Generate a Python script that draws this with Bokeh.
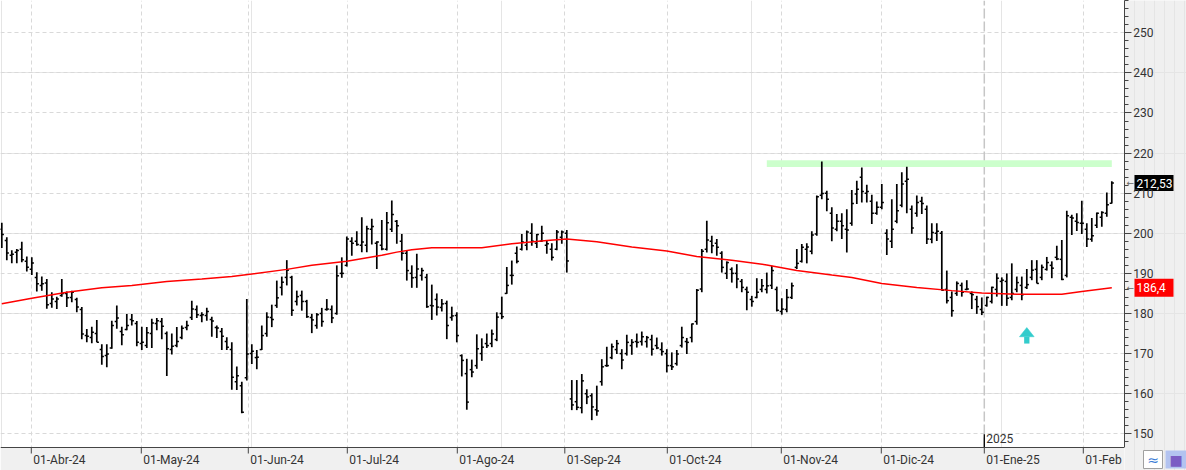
from bokeh.plotting import figure
from bokeh.models import Range1d, FixedTicker, SingleIntervalTicker, Label, Span, Grid, LinearAxis
from bokeh.layouts import row
from bokeh.embed import file_html
from bokeh.resources import INLINE
from bokeh.core.properties import value

# ---------------- data ----------------
opens = [201, 198.2, 194.5, 195.3, 196, 193, 191, 189, 187, 187.6, 182.5, 183, 184.5, 185, 184, 183.5, 181, 174.5, 174, 175,
         171, 169.5, 171.4, 178, 175.5, 176, 178.5, 177.5, 172.5, 172, 175, 177.5, 178, 175, 171, 172, 174, 176.5, 179, 181,
         179.5, 179.5, 178.5, 176.5, 175.5, 173, 171, 163, 162, 164, 170, 169, 171, 175, 179, 182, 186.5, 189, 189, 183,
         184.5, 183, 179, 177, 180, 181, 181, 180, 190, 192, 198, 198, 197, 197, 201, 197.5, 197, 196, 201, 203,
         198, 195, 190, 189, 189.5, 189, 182, 183.5, 181.5, 182.5, 179, 179.5, 169.5, 165, 166, 167, 170, 172.5, 172.5, 173.5,
         180, 185, 189.5, 195, 196, 197, 200, 197.5, 198, 197, 196, 196, 199, 200, 158.7, 158, 156.5, 160, 159.5, 156,
         163, 167, 169, 171, 170, 170, 172, 173, 173, 173, 173.5, 172, 171, 170, 167, 167.5, 172, 173, 174, 178,
         186.1, 196, 198, 197.5, 195, 190, 191, 190, 188, 186, 183.5, 184, 186, 186, 187, 186, 180.5, 181, 184, 191.5,
         193, 196, 195.5, 199.8, 209.5, 210, 205, 201, 203, 201, 202.5, 209.8, 214, 210, 208, 205, 206.5, 200, 198, 203,
         207, 213, 206, 205, 208, 206, 198.5, 200, 200, 186, 184, 185, 187, 186, 185, 183.5, 181, 182, 183, 186,
         188, 188, 184, 186, 187, 186.5, 189, 191, 189, 191, 192, 194, 193.5, 189.5, 204, 203, 202.5, 201, 198.5, 202,
         204, 205, 207.5]
highs = [202.6, 199, 195.8, 196.1, 197.9, 194.2, 194, 190.3, 189.2, 188.6, 185.3, 184.2, 188.6, 185.5, 185.7, 183.9, 181.6, 176.1, 176.7, 178.4,
         172.3, 172.3, 178.2, 182, 176.7, 179.9, 179.9, 178.1, 176.7, 176.6, 178.7, 178.9, 178.9, 175.5, 175, 176.6, 177, 178.2, 183.2, 182,
         180.3, 181.4, 179.2, 177, 176.4, 174.1, 172.8, 166.8, 163, 183.6, 172.3, 170.9, 177, 180.3, 182.2, 188.2, 189.2, 193.3, 189.4, 185.7,
         185.7, 183.4, 179.9, 180.1, 181.4, 183.6, 182, 192, 194, 199.2, 199, 200.5, 204, 201.9, 203.6, 198, 203.3, 205.3, 208.2, 203.3,
         199.8, 195.7, 192, 194.9, 191.4, 189.9, 187.2, 185, 183.6, 183.2, 181.7, 180.3, 169.8, 168.7, 168.5, 174.8, 173.8, 175, 176, 180.3,
         184.2, 191.6, 193.2, 196.7, 199.8, 200.7, 202.5, 199.8, 201.9, 198.2, 197.5, 200.8, 200.7, 200.8, 163.4, 163.4, 164.9, 161.1, 160.1, 162,
         168.6, 171.7, 172.5, 173.4, 171.1, 174.7, 173.6, 175, 175.5, 174.4, 174.7, 174, 172.8, 171.1, 170.3, 170.9, 176.7, 173.9, 177.5, 186.1,
         196.1, 203.1, 199.4, 198.6, 195.5, 193, 191.5, 192.3, 188.6, 186.7, 184.4, 188.8, 188.6, 190.2, 191.9, 186.7, 183.8, 186.1, 187.7, 196.1,
         197.3, 197.5, 200.5, 209.4, 217.9, 210.6, 206.5, 204.8, 205, 206, 210.8, 213.1, 216.4, 212.1, 209.6, 207.9, 212.3, 201, 208.5, 212.3,
         215.2, 216.6, 206.9, 209.4, 209.1, 206.9, 202.5, 202.5, 200.6, 190.7, 185.5, 188, 187.7, 188.3, 185.5, 184.4, 184, 184.2, 186.7, 190,
         189, 190, 192.5, 189.2, 189.2, 191.1, 193.3, 193.3, 192.2, 194.1, 193, 196.9, 198.3, 205.6, 204.6, 205, 208.1, 202.5, 203.8, 205.2,
         205.5, 210.2, 213]
lows = [196.3, 193.3, 192.5, 192.5, 192.8, 190.5, 189.6, 185.5, 185.7, 181.2, 181.4, 181.1, 184.2, 181.6, 182.8, 180.3, 173.6, 172.8, 172.6, 172.8,
        167.2, 166.6, 171.2, 176.2, 172.1, 175.8, 177, 171.8, 170.9, 171.4, 171.4, 175.8, 173.6, 164.4, 169.8, 171.6, 173.6, 175.8, 178.4, 178.9,
        177.8, 178.2, 174.2, 173.9, 170.9, 170.9, 161, 160.9, 155.1, 163.3, 167.4, 166.1, 170.9, 174.2, 176.6, 181.4, 184.5, 187, 179.4, 182,
        180.7, 178.9, 175.1, 176.2, 176.7, 180.7, 177.6, 179.7, 188.9, 191.7, 194.4, 196.9, 195.3, 195.3, 197.2, 191.1, 195.8, 195.7, 200.3, 197.4,
        193.2, 188.2, 186.4, 186.4, 188.2, 181.4, 178.4, 179.5, 180.5, 173.6, 178.2, 172.8, 164.3, 156, 164.1, 166.2, 168.2, 171.4, 171.6, 173.1,
        178.6, 184.9, 187.2, 192.5, 195.7, 195.8, 196.9, 196.3, 197.8, 194.9, 193.2, 195.8, 197.4, 190.2, 155.9, 155.9, 155.1, 157.4, 153.4, 154.5,
        162, 166.7, 168.6, 169.9, 166.1, 169.5, 169.7, 171.5, 172, 171.5, 169.5, 171.1, 169.5, 165.3, 165.9, 167, 171.5, 169.9, 172.8, 177.2,
        185.3, 195.2, 195, 194.4, 190.2, 188.6, 187.7, 186.3, 185.3, 180.8, 181.7, 183.8, 185.3, 185, 186.1, 180.5, 179.7, 180.3, 183.6, 191.1,
        192.7, 192.5, 194.8, 199.4, 208.5, 205.5, 198, 200.5, 198.6, 195.2, 201.9, 207.3, 207.7, 207.7, 202.3, 204.6, 206, 194.6, 196.3, 202.5,
        206.5, 205, 199.9, 204.1, 204.8, 197.3, 197.5, 198.1, 185.7, 182.5, 179.2, 184.4, 184.2, 185.8, 181.1, 179.9, 179.6, 181.7, 182.5, 184.2,
        181.9, 181.9, 183.3, 185.3, 183.3, 186.1, 188.3, 187.5, 188.3, 190.7, 188.8, 193.3, 188.3, 189, 199.6, 200.6, 199.8, 196.6, 197.9, 201.3,
        201.6, 204.1, 207.4]
closes = [199.7, 195.1, 194.8, 195.7, 193.4, 191.5, 192.6, 187.4, 187.4, 182.2, 183.6, 183.6, 185, 183.9, 185.3, 181.6, 174.9, 174.3, 175.3, 172.8,
          169.3, 169.9, 177, 178.9, 174.7, 177, 178.2, 172.8, 172.8, 175.2, 177.6, 178.2, 176.8, 171.2, 171.8, 173, 176.3, 177, 181.1, 179.7,
          179.7, 180.5, 178.1, 176.4, 174.3, 171.6, 164.1, 164.5, 155.4, 169.9, 170.6, 169.1, 174.5, 179.1, 178.5, 183.9, 187.8, 190.8, 180.8, 184.2,
          183, 179.2, 178.4, 179.7, 178, 181.1, 178.9, 189.4, 190, 198.6, 197.5, 197.2, 197.8, 201.1, 201.7, 197.8, 196.1, 202.6, 204.7, 201.9,
          195, 190.7, 188.9, 191.1, 190.7, 181.7, 181.9, 181.6, 182.4, 177, 179.4, 174.5, 168.3, 157.9, 165.4, 171.2, 171.6, 172, 174.9, 179.1,
          179.2, 187, 189.5, 193, 197.8, 200.3, 198, 199.7, 200, 197.4, 194, 200.3, 200.3, 193.1, 157.2, 156.6, 163.2, 159.2, 156.7, 155.7,
          166.7, 167, 171.7, 172.5, 168.4, 172.8, 172.8, 172.8, 174.2, 174, 171.1, 171.4, 170.5, 167, 166.7, 169.9, 174, 172.8, 177.4, 185.8,
          195.5, 198.3, 196.9, 196.5, 191.5, 192.7, 190, 188.6, 186.5, 185.3, 183, 185.3, 186.9, 186.9, 190.7, 180.8, 181.1, 184, 186.9, 192.5,
          196.5, 196.6, 199.6, 209.1, 209.9, 208.5, 201.3, 203, 201.9, 200.8, 207.4, 211, 210.4, 210.4, 205, 206.5, 207.7, 198.6, 201, 205.6,
          212.3, 213.5, 201.3, 207.7, 207.4, 198.6, 200.2, 200.5, 185.8, 183.2, 180.7, 187.5, 185.3, 186.1, 184.7, 181.7, 180.3, 184, 186.5, 188.8,
          188.3, 183.8, 185, 187.7, 184.7, 187.2, 190.8, 187.5, 191.5, 192.7, 191.3, 193.6, 188.5, 204.4, 203.8, 202.7, 202.5, 198.6, 199.4, 205,
          205.2, 207.1, 212.53]

# moving average readings (bar index, value)
ma_idx = [0, 6, 13, 20, 26, 33, 40, 46, 57, 62, 69, 76, 79, 82, 86, 96, 102, 109, 113, 119,
          126, 133, 139, 146, 153, 159, 166, 170, 176, 183, 190, 196, 203, 212, 216, 222]
ma_val = [182.4, 183.8, 185.3, 186.4, 187.0, 188.0, 188.6, 189.2, 191.0, 192.0, 193.0, 194.5, 195.3, 195.9, 196.4, 196.4, 197.4, 198.2, 198.6, 197.9,
          196.6, 195.6, 194.2, 193.3, 192.1, 190.7, 189.6, 189.0, 187.5, 186.5, 185.7, 185.1, 184.8, 184.8, 185.5, 186.4]

month_labels = ["01-Abr-24", "01-May-24", "01-Jun-24", "01-Jul-24", "01-Ago-24", "01-Sep-24",
                "01-Oct-24", "01-Nov-24", "01-Dic-24", "01-Ene-25", "01-Feb"]
month_pos = [5.9, 27.9, 49.3, 69.1, 91.1, 112.6, 133.1, 155.9, 175.9, 196.5, 216.3]
year_label = "2025"
year_pos = 196.5

band_from, band_to = 153, 222
band_low, band_high = 216.5, 218.2

arrow_idx = 205
arrow_low, arrow_high = 172.5, 176.5

last_close_text = "212,53"
last_close_val = 212.53
ma_last_text = "186,4"
ma_last_val = 186.4

# ---------------- layout constants ----------------
X0, X1 = -0.26, 224.54          # 1124 px plot width
Y0, Y1 = 146.58, 258.05         # price area: top 447 px
UNIT_PX = 447 / (Y1 - Y0)
SY0 = Y1 - 470 / UNIT_PX        # full 470 px height
FONT = "Roboto"
BG = "#f0f0f0"
AXIS_C = "#444444"
TXT_C = "#333333"

# ---------------- main figure (frame = whole canvas) ----------------
p = figure(width=1124, height=470, output_backend="svg", toolbar_location=None,
           x_range=Range1d(X0, X1), y_range=Range1d(SY0, Y1),
           x_axis_location=None, y_axis_location=None,
           min_border_left=0, min_border_top=0, min_border_right=0, min_border_bottom=0)
p.background_fill_color = "white"
p.border_fill_color = BG
p.outline_line_color = None

xgrid = Grid(dimension=0, ticker=FixedTicker(ticks=[m for m in month_pos if m != year_pos]))
ygrid = Grid(dimension=1, ticker=SingleIntervalTicker(interval=10))
for g in (xgrid, ygrid):
    g.grid_line_color = "#d9d9d9"
    g.grid_line_dash = "4 3"
    g.grid_line_width = 1
    p.add_layout(g)

# bottom date strip
p.quad(left=[X0], right=[X1], bottom=[SY0], top=[Y0], fill_color=BG, line_color=None)
p.add_layout(Span(location=Y0, dimension="width", line_color=AXIS_C, line_width=1.2))
p.segment(x0=month_pos, y0=[Y0 - 6 / UNIT_PX] * len(month_pos), x1=month_pos, y1=[Y0] * len(month_pos),
          line_color=AXIS_C, line_width=1)
p.text(x=month_pos, y=[Y0 - 12 / UNIT_PX] * len(month_pos), text=month_labels, x_offset=2,
       text_font=value(FONT), text_font_size="12px", text_color=TXT_C,
       text_align="left", text_baseline="middle")

# year separator
p.segment(x0=[year_pos], y0=[Y0], x1=[year_pos], y1=[Y1], line_color="#c6c6c6",
          line_dash="10 3", line_width=1.5)

# resistance band
p.quad(left=[band_from], right=[band_to], bottom=[band_low], top=[band_high],
       fill_color="#ccffcc", line_color=None)

# OHLC bars
idx = list(range(len(highs)))
p.segment(x0=idx, y0=lows, x1=idx, y1=highs, line_color="black", line_width=1.7)
p.segment(x0=[i - 0.42 for i in idx], y0=opens, x1=idx, y1=opens, line_color="black", line_width=1.5)
p.segment(x0=idx, y0=closes, x1=[i + 0.42 for i in idx], y1=closes, line_color="black", line_width=1.5)

# moving average
p.line(ma_idx, ma_val, line_color="#ff0000", line_width=1.5)

# arrow
head_base = arrow_high - 2.3
p.patch([arrow_idx - 1.47, arrow_idx + 1.47, arrow_idx], [head_base, head_base, arrow_high],
        fill_color="#33cccc", line_color="#33cccc", line_width=0.5)
p.quad(left=[arrow_idx - 0.53], right=[arrow_idx + 0.53], bottom=[arrow_low], top=[head_base],
       fill_color="#33cccc", line_color=None)

# 2025 marker
p.segment(x0=[year_pos], y0=[Y0], x1=[year_pos], y1=[Y0 + 3.3], line_color="black", line_width=1.3)
p.add_layout(Label(x=year_pos, y=Y0 + 2.2, x_offset=2, text=year_label, text_font=FONT,
                   text_font_size="12px", text_color=TXT_C, text_align="left",
                   text_baseline="middle"))

# ---------------- right-hand price scale ----------------
SIDE_W = 62
s = figure(width=SIDE_W, height=470, output_backend="svg", toolbar_location=None,
           x_range=Range1d(0, SIDE_W), y_range=Range1d(SY0, Y1),
           x_axis_location=None, y_axis_location=None,
           min_border_left=0, min_border_top=0, min_border_right=0, min_border_bottom=0)
s.background_fill_color = BG
s.border_fill_color = BG
s.outline_line_color = None

price_axis = LinearAxis(ticker=SingleIntervalTicker(interval=10, num_minor_ticks=5),
                        bounds=(Y0, Y1),
                        axis_line_color=AXIS_C, major_tick_line_color=AXIS_C, minor_tick_line_color=AXIS_C,
                        major_tick_in=7, major_tick_out=0, minor_tick_in=4, minor_tick_out=0,
                        major_label_standoff=-29,
                        major_label_text_font=FONT, major_label_text_font_size="12px",
                        major_label_text_color=TXT_C)
s.add_layout(price_axis, "left")

box_l, box_r = 10, 49
s.quad(left=[box_l], right=[box_r], bottom=[last_close_val - 8 / UNIT_PX], top=[last_close_val + 8 / UNIT_PX],
       fill_color="black", line_color=None)
s.quad(left=[box_l], right=[box_r], bottom=[ma_last_val - 9 / UNIT_PX], top=[ma_last_val + 9 / UNIT_PX],
       fill_color="#ff0000", line_color=None)
s.text(x=[box_l + 2, box_l + 2], y=[last_close_val, ma_last_val], text=[last_close_text, ma_last_text],
       text_font=value(FONT), text_font_size="12px", text_color="white",
       text_align="left", text_baseline="middle")
s.text(x=[2, 2], y=[last_close_val, ma_last_val], text=["←", "←"],
       text_font=value("DejaVu Sans"), text_font_size="9px", text_color="#666666",
       text_align="left", text_baseline="middle")

# bottom-right buttons
b_top = Y1 - 450 / UNIT_PX
b_bot = Y1 - 468 / UNIT_PX
s.quad(left=[19], right=[38], bottom=[b_bot], top=[b_top], fill_color="white", line_color="#a0a0a0")
s.quad(left=[41], right=[62], bottom=[b_bot], top=[b_top], fill_color="#b3c3f0", line_color=None)
s.text(x=[28.5], y=[(b_top + b_bot) / 2], text=["≈"], text_font=value("DejaVu Sans"),
       text_font_size="14px", text_color="#3a7bd5", text_align="center", text_baseline="middle")
s.text(x=[51.5], y=[(b_top + b_bot) / 2], text=["■"], text_font=value("DejaVu Sans"),
       text_font_size="14px", text_color="#7b5cc4", text_align="center", text_baseline="middle")

layout = row(p, s)
open("out.html", "w").write(file_html(layout, INLINE))
